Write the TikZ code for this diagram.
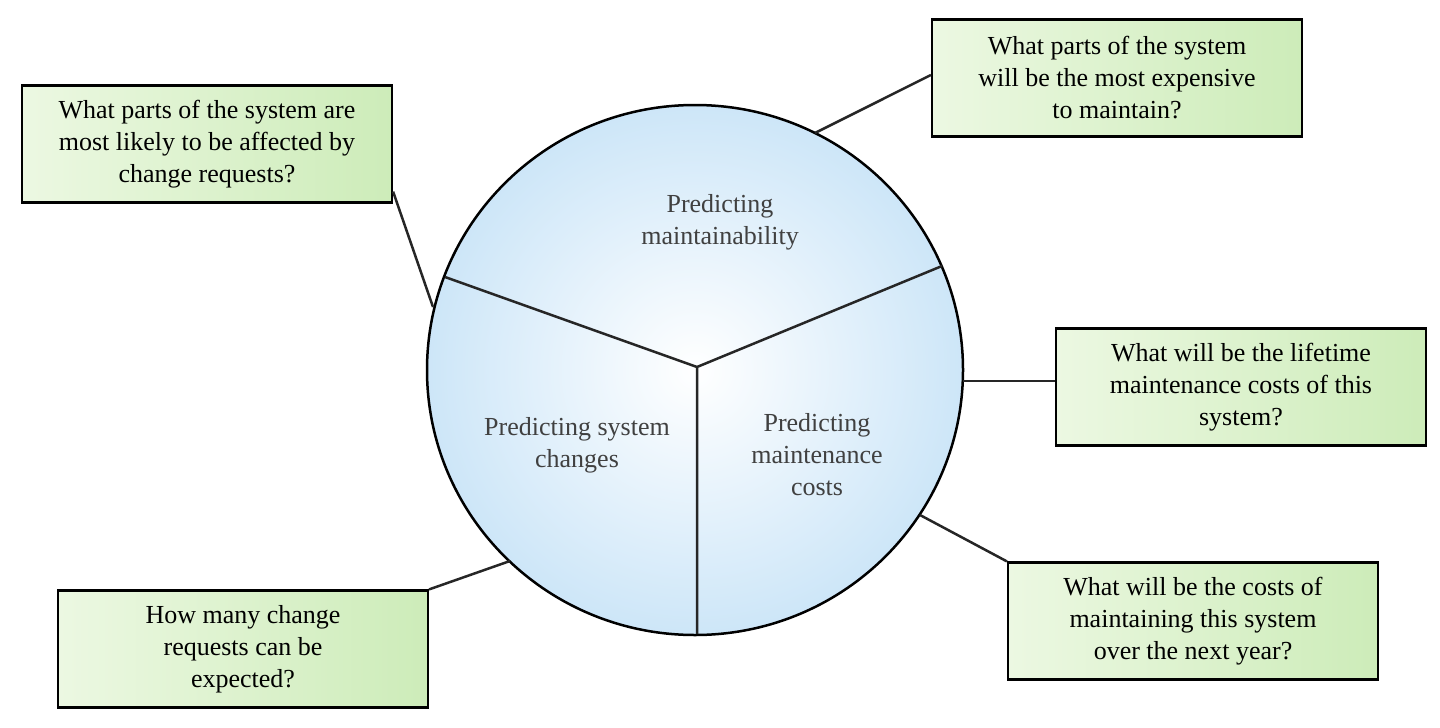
\documentclass[tikz,border=0pt]{standalone}
\usepackage{fontspec}
\setmainfont{Liberation Serif}
\definecolor{rim}{RGB}{205,230,248}
\definecolor{gA}{RGB}{236,248,226}
\definecolor{gB}{RGB}{205,236,185}
\begin{document}
\begin{tikzpicture}[x=1pt,y=-1pt,
  q/.style={draw=black,line width=2.2pt,left color=gA,right color=gB,
    minimum width=370pt,minimum height=117pt,align=center,inner sep=0pt,
    font=\fontsize{26}{32}\selectfont},
  seg/.style={draw=black!85,line width=2.5pt},
  lab/.style={align=center,font=\fontsize{26}{32}\selectfont,text=black!75}]
\useasboundingbox (0,0) rectangle (1440,728);
\shade[inner color=white,outer color=rim] (695,370) ellipse [x radius=268, y radius=265];
\draw[line width=2.5pt] (695,370) ellipse [x radius=268, y radius=265];
\coordinate (c) at (697,367);
\coordinate (l) at (445,277);
\coordinate (r) at (942,266);
\coordinate (d) at (697,634);
\draw[seg] (l)--(c)--(r) (c)--(d);
\node[lab] (m1) at (720,222) {Predicting\\maintainability};
\node[lab] (m2) at (577,445) {Predicting system\\changes};
\node[lab] (m3) at (817,455) {Predicting\\maintenance\\costs};
\node[q] (b1) at (207,144) {What parts of the system are\\most likely to be affected by\\change requests?};
\node[q] (b2) at (1117,78) {What parts of the system\\will be the most expensive\\to maintain?};
\node[q] (b3) at (1241,387) {What will be the lifetime\\maintenance costs of this\\system?};
\node[q] (b4) at (1193,621) {What will be the costs of\\maintaining this system\\over the next year?};
\node[q] (b5) at (243,649) {How many change\\requests can be\\expected?};
\coordinate (e1) at (433,307);
\coordinate (e2) at (815,133);
\coordinate (e3) at (963,381);
\coordinate (e4) at (920,515);
\coordinate (e5) at (510,561);
\draw[seg] (b1.south east)++(0,-12) -- (e1);
\draw[seg] (b2.west)++(0,-3) -- (e2);
\draw[seg] (b3.west)++(0,-6) -- (e3);
\draw[seg] (b4.north west) -- (e4);
\draw[seg] (b5.north east) -- (e5);
\end{tikzpicture}
\end{document}
